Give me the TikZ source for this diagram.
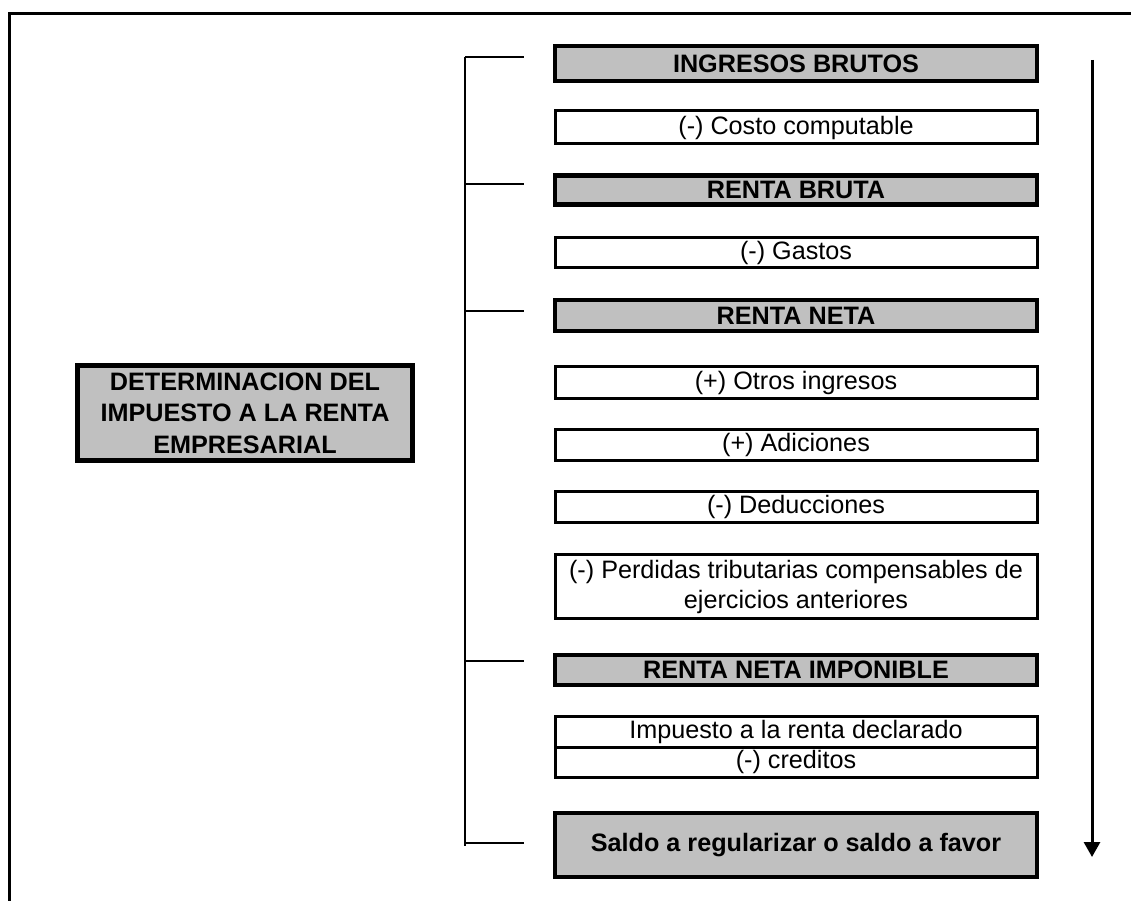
\documentclass[tikz,border=0pt]{standalone}
\usepackage{fontspec}
\setmainfont{Liberation Sans}
\usetikzlibrary{arrows.meta}
\definecolor{boxgray}{HTML}{C0C0C0}
\newcommand{\fs}{\fontsize{25.2}{30}\selectfont}
\tikzset{
  gbox/.style={draw, line width=4.8pt, fill=boxgray, minimum width=482pt, inner sep=0pt, font=\fs\bfseries, align=center},
  wbox/.style={draw, line width=3pt, fill=white, minimum width=482pt, inner sep=0pt, font=\fs, align=center},
  lbox/.style={draw, line width=5pt, fill=boxgray, inner sep=0pt, font=\fs\bfseries, align=center},
  frame/.style={line width=3pt},
  brk/.style={line width=1.6pt},
  flow/.style={line width=3pt, -{Triangle[width=16pt,length=15pt]}}
}
\begin{document}
\begin{tikzpicture}[x=1pt,y=-1pt]
\useasboundingbox (0,0) rectangle (1131,901);
\clip (0,0) rectangle (1131,901);
% frame
\coordinate (f1) at (1140,13.5);
\coordinate (f2) at (9.5,13.5);
\coordinate (f3) at (9.5,910);
\draw[frame] (f1) -- (f2) -- (f3);
% left box
\node[lbox, minimum width=335pt, minimum height=95pt] (main) at (245,413) {DETERMINACION DEL\\[1.5pt]IMPUESTO A LA RENTA\\[1.5pt]EMPRESARIAL};
% right boxes
\node[gbox, minimum height=35pt] (ib) at (796,63.5) {INGRESOS BRUTOS};
\node[wbox, minimum height=33pt] (cc) at (796,127.5) {(-) Costo computable};
\node[gbox, minimum height=29pt] (rb) at (796,190) {RENTA BRUTA};
\node[wbox, minimum height=30pt] (ga) at (796,252.5) {(-) Gastos};
\node[gbox, minimum height=31pt] (rn) at (796,315.5) {RENTA NETA};
\node[wbox, minimum height=32pt] (oi) at (796,382.5) {(+) Otros ingresos};
\node[wbox, minimum height=31pt] (ad) at (796,445) {(+) Adiciones};
\node[wbox, minimum height=31pt] (de) at (796,507) {(-) Deducciones};
\node[wbox, minimum height=64pt] (pe) at (796,586.5) {(-) Perdidas tributarias compensables de\\ejercicios anteriores};
\node[gbox, minimum height=30pt] (rni) at (796,670) {RENTA NETA IMPONIBLE};
\node[wbox, minimum height=30.5pt] (im1) at (796,731.75) {Impuesto a la renta declarado};
\node[wbox, minimum height=30.5pt] (im2) at (796,762.25) {(-) creditos};
\node[gbox, minimum height=64pt] (sa) at (796,845) {Saldo a regularizar o saldo a favor};
% bracket
\coordinate (b1) at (465,57);
\coordinate (b2) at (465,184);
\coordinate (b3) at (465,311);
\coordinate (b4) at (465,661);
\coordinate (b5) at (465,843);
\coordinate (b6) at (465,846);
\coordinate (e1) at (524,57);
\coordinate (e2) at (524,184);
\coordinate (e3) at (524,311);
\coordinate (e4) at (524,661);
\coordinate (e5) at (524,843);
\draw[brk] (b1) -- (b6);
\foreach \i in {1,...,5} { \draw[brk] (b\i) -- (e\i); }
% arrow
\coordinate (a1) at (1092,60);
\coordinate (a2) at (1092,857);
\draw[flow] (a1) -- (a2);
\end{tikzpicture}
\end{document}
